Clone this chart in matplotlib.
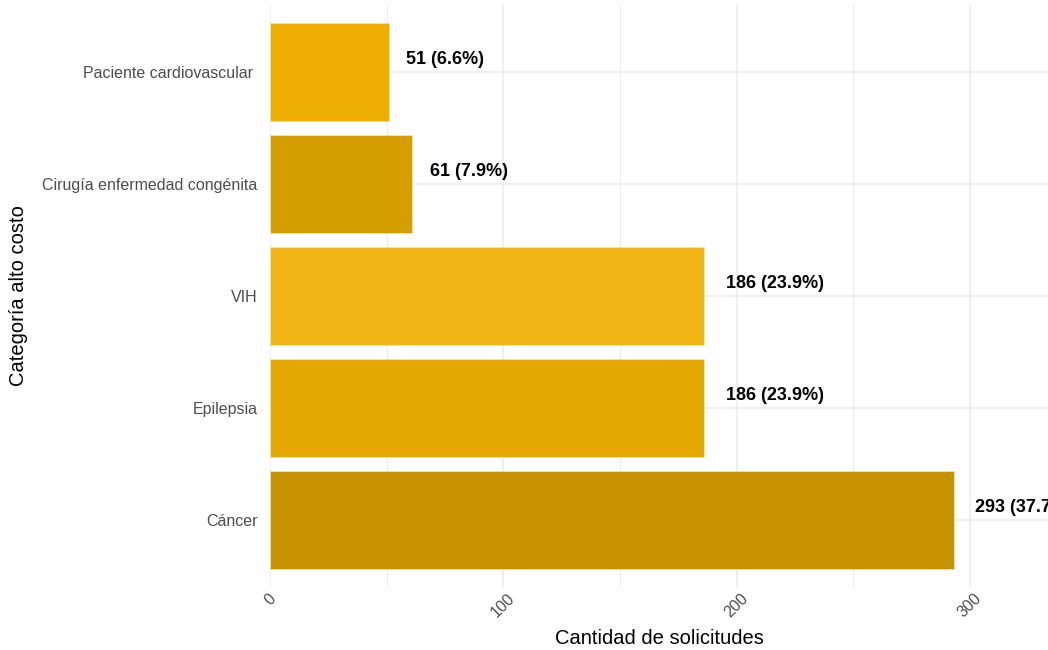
import matplotlib.pyplot as plt
from matplotlib.ticker import MultipleLocator

plt.rcParams['font.family'] = ['Liberation Sans', 'DejaVu Sans']

# Datos
categorias = ['Cáncer', 'Epilepsia', 'VIH', 'Cirugía enfermedad congénita', 'Paciente cardiovascular ']
cantidades = [293, 186, 186, 61, 51]
porcentajes = [37.7, 23.9, 23.9, 7.9, 6.6]
colores = ['#C69200', '#E5A800', '#F0B414', '#D49E00', '#EDAE00']

fig = plt.figure(figsize=(10.48, 6.5), dpi=100)
ax = fig.add_axes([270 / 1048, 1 - 587 / 650, 778 / 1048, 582 / 650])

pos = range(len(categorias))
ax.barh(pos, cantidades, height=0.88, color=colores, edgecolor='#F7E3A8', linewidth=0.6, zorder=2)

# etiquetas: desplazamiento proporcional al ancho del texto (como hjust negativo)
etiquetas = []
for i, (c, p) in enumerate(zip(cantidades, porcentajes)):
    t = ax.annotate(f'{c} ({p}%)', xy=(c, i), xytext=(0, 3), textcoords='offset points',
                    ha='left', va='bottom', fontsize=13, fontweight='bold', color='black',
                    annotation_clip=False)
    etiquetas.append(t)

ax.set_xlim(0, 333.4)
ax.set_ylim(-0.6, len(categorias) - 0.4)
ax.set_yticks(list(pos))
ax.set_yticklabels(categorias)
ax.xaxis.set_major_locator(MultipleLocator(100))
ax.xaxis.set_minor_locator(MultipleLocator(50))

ax.grid(True, which='major', color='#EBEBEB', linewidth=1.1, zorder=0)
ax.grid(True, which='minor', axis='x', color='#EBEBEB', linewidth=0.7, zorder=0)
ax.set_axisbelow(True)

for s in ax.spines.values():
    s.set_visible(False)
ax.tick_params(axis='both', which='both', length=0, colors='#4D4D4D', labelsize=11.5)
ax.tick_params(axis='y', pad=9)
ax.tick_params(axis='x', pad=3)
for lab in ax.get_xticklabels():
    lab.set_rotation(45)
    lab.set_ha('center')
    lab.set_va('top')

ax.set_xlabel('Cantidad de solicitudes', fontsize=14.5, labelpad=6)
ax.set_ylabel('Categoría alto costo', fontsize=14.5)
ax.yaxis.set_label_coords(-(270 - 28) / 778, 0.5)

fig.canvas.draw()
r = fig.canvas.get_renderer()
for t in etiquetas:
    w = t.get_window_extent(r).width * 72 / fig.dpi
    t.xyann = (0.22 * w, 3)

fig.savefig('out.png', dpi=100)
